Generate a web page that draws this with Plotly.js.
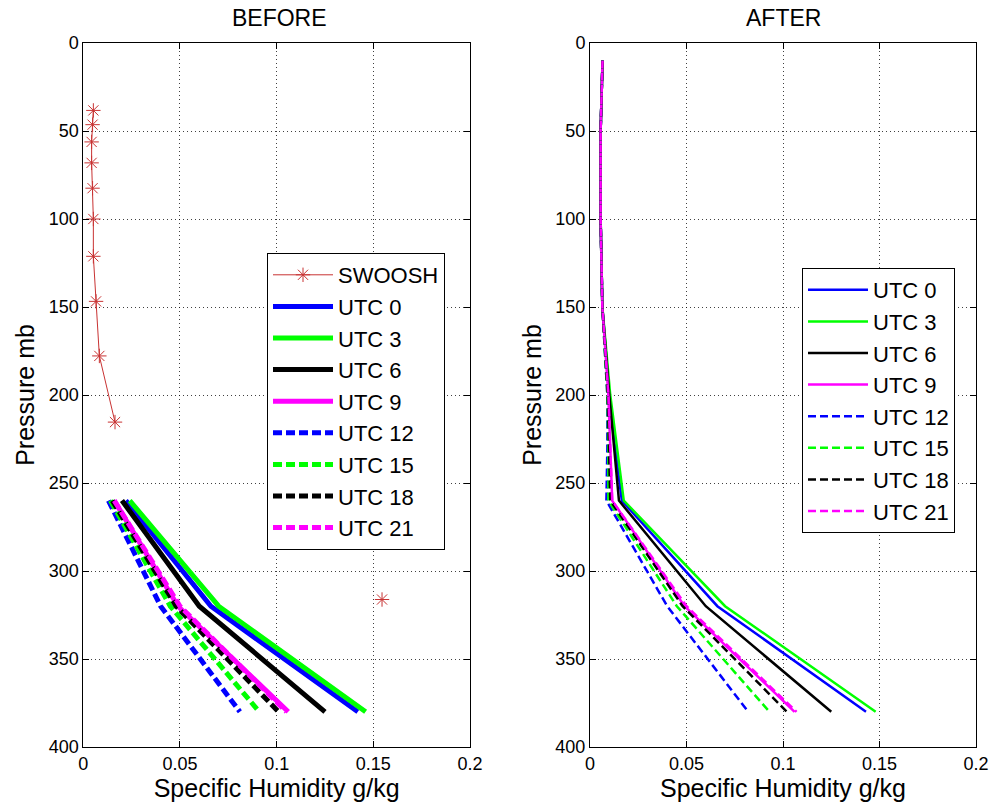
<!DOCTYPE html>
<html><head><meta charset="utf-8">
<script src="https://cdn.plot.ly/plotly-3.0.1.min.js"></script>
<style>body{margin:0;background:#fff}#chart{width:995px;height:809px}</style>
</head><body><div id="chart"></div>
<script>
// ---------- DATA ----------
const seriesNames = ['UTC 0', 'UTC 3', 'UTC 6', 'UTC 9', 'UTC 12', 'UTC 15', 'UTC 18', 'UTC 21'];

// BEFORE panel
const swooshPressure = [38.3, 46.4, 56.2, 68.1, 82.5, 100, 121.2, 146.8, 177.8, 215.4, 261.0, 316.2];
const swooshHumidity = [0.0052, 0.0048, 0.0043, 0.0043, 0.0048, 0.0052, 0.0052, 0.0066, 0.0083, 0.0164, null, 0.1545];
const beforePressure = [260, 320, 380];
const beforeUTC0  = [0.022, 0.066, 0.142];
const beforeUTC3  = [0.024, 0.070, 0.146];
const beforeUTC6  = [0.020, 0.060, 0.125];
const beforeUTC9  = [0.016, 0.049, 0.106];
const beforeUTC12 = [0.013, 0.040, 0.081];
const beforeUTC15 = [0.014, 0.045, 0.091];
const beforeUTC18 = [0.015, 0.048, 0.101];
const beforeUTC21 = [0.016, 0.050, 0.105];

// AFTER panel
const afterPressure = [10, 50, 100, 150, 200, 230, 260, 320, 380];
const afterUTC0  = [0.0065, 0.0055, 0.0055, 0.0064, 0.0100, 0.0130, 0.0165, 0.066, 0.143];
const afterUTC3  = [0.0065, 0.0055, 0.0055, 0.0064, 0.0105, 0.0140, 0.0175, 0.070, 0.148];
const afterUTC6  = [0.0065, 0.0055, 0.0055, 0.0064, 0.0100, 0.0125, 0.0150, 0.060, 0.125];
const afterUTC9  = [0.0065, 0.0055, 0.0055, 0.0064, 0.0095, 0.0105, 0.0115, 0.049, 0.106];
const afterUTC12 = [0.0065, 0.0055, 0.0055, 0.0064, 0.0090, 0.0090, 0.0085, 0.040, 0.082];
const afterUTC15 = [0.0065, 0.0055, 0.0055, 0.0064, 0.0090, 0.0095, 0.0095, 0.045, 0.093];
const afterUTC18 = [0.0065, 0.0055, 0.0055, 0.0064, 0.0092, 0.0100, 0.0105, 0.048, 0.102];
const afterUTC21 = [0.0065, 0.0055, 0.0055, 0.0064, 0.0095, 0.0105, 0.0115, 0.050, 0.107];

const xTickVals = [0, 0.05, 0.1, 0.15, 0.2];
const xTickText = ['0', '0.05', '0.1', '0.15', '0.2'];
const yTickVals = [0, 50, 100, 150, 200, 250, 300, 350, 400];

// ---------- STYLE ----------
const colors = ['rgb(0,0,255)', 'rgb(0,255,0)', 'rgb(0,0,0)', 'rgb(255,0,255)',
                'rgb(0,0,255)', 'rgb(0,255,0)', 'rgb(0,0,0)', 'rgb(255,0,255)'];
const FONT = 'Liberation Sans, Arial, Helvetica, sans-serif';
const beforeSeries = [beforeUTC0, beforeUTC3, beforeUTC6, beforeUTC9, beforeUTC12, beforeUTC15, beforeUTC18, beforeUTC21];
const afterSeries = [afterUTC0, afterUTC3, afterUTC6, afterUTC9, afterUTC12, afterUTC15, afterUTC18, afterUTC21];

const traces = [];
traces.push({
  x: swooshHumidity, y: swooshPressure, name: 'SWOOSH', type: 'scatter', mode: 'lines+markers',
  connectgaps: false,
  line: {color: 'rgb(200,50,50)', width: 1},
  marker: {symbol: 'asterisk-open', size: 12, color: 'rgb(200,50,50)', line: {color: 'rgb(200,50,50)', width: 1}},
  xaxis: 'x', yaxis: 'y', legend: 'legend'
});
beforeSeries.forEach((vals, i) => {
  traces.push({
    x: vals, y: beforePressure, name: seriesNames[i], type: 'scatter', mode: 'lines',
    line: {color: colors[i], width: 5, dash: i < 4 ? 'solid' : '9px,4px'},
    xaxis: 'x', yaxis: 'y', legend: 'legend'
  });
});
afterSeries.forEach((vals, i) => {
  traces.push({
    x: vals, y: afterPressure, name: seriesNames[i], type: 'scatter', mode: 'lines',
    line: {color: colors[i], width: 2.5, dash: i < 4 ? 'solid' : '8px,4px'},
    xaxis: 'x2', yaxis: 'y2', legend: 'legend2'
  });
});

const xAxisBase = {
  range: [0, 0.2], tickvals: xTickVals, ticktext: xTickText,
  showgrid: true, gridcolor: 'rgba(0,0,0,0.75)', griddash: '1px,3px', gridwidth: 1,
  showline: true, linecolor: '#000', linewidth: 1, mirror: 'ticks',
  ticks: 'inside', ticklen: 6, tickcolor: '#000', zeroline: false,
  tickfont: {family: FONT, size: 18, color: '#000'},
  title: {text: 'Specific Humidity g/kg', font: {family: FONT, size: 25, color: '#000'}, standoff: 4}
};
const yAxisBase = {
  range: [400, 0], tickvals: yTickVals,
  showgrid: true, gridcolor: 'rgba(0,0,0,0.75)', griddash: '1px,3px', gridwidth: 1,
  showline: true, linecolor: '#000', linewidth: 1, mirror: 'ticks',
  ticks: 'inside', ticklen: 6, tickcolor: '#000', zeroline: false,
  tickfont: {family: FONT, size: 18, color: '#000'},
  title: {text: 'Pressure mb', font: {family: FONT, size: 25, color: '#000'}, standoff: 6}
};

const legendBase = {
  bgcolor: '#fff', bordercolor: '#000', borderwidth: 1,
  font: {family: FONT, size: 22, color: '#000'},
  xanchor: 'left', yanchor: 'top', itemwidth: 60, tracegroupgap: 0
};

const layout = {
  width: 995, height: 809,
  margin: {l: 0, r: 0, t: 0, b: 0},
  paper_bgcolor: '#fff', plot_bgcolor: '#fff',
  showlegend: true,
  xaxis: Object.assign({}, xAxisBase, {domain: [83.3/995, 470/995], anchor: 'y'}),
  yaxis: Object.assign({}, yAxisBase, {domain: [1 - 747/809, 1 - 43/809], anchor: 'x'}),
  xaxis2: Object.assign({}, xAxisBase, {domain: [590/995, 976/995], anchor: 'y2'}),
  yaxis2: Object.assign({}, yAxisBase, {domain: [1 - 747/809, 1 - 43/809], anchor: 'x2'}),
  legend: Object.assign({}, legendBase, {x: 267/995, y: 1 - 253/809}),
  legend2: Object.assign({}, legendBase, {x: 802/995, y: 1 - 268/809}),
  annotations: [
    {text: 'BEFORE', x: 279/995, y: 1 - 18/809, xref: 'paper', yref: 'paper', showarrow: false,
     xanchor: 'center', yanchor: 'middle', font: {family: FONT, size: 23, color: '#000'}},
    {text: 'AFTER', x: 783/995, y: 1 - 18/809, xref: 'paper', yref: 'paper', showarrow: false,
     xanchor: 'center', yanchor: 'middle', font: {family: FONT, size: 23, color: '#000'}}
  ]
};

Plotly.newPlot('chart', traces, layout, {displayModeBar: false, staticPlot: true});
</script>
</body></html>
